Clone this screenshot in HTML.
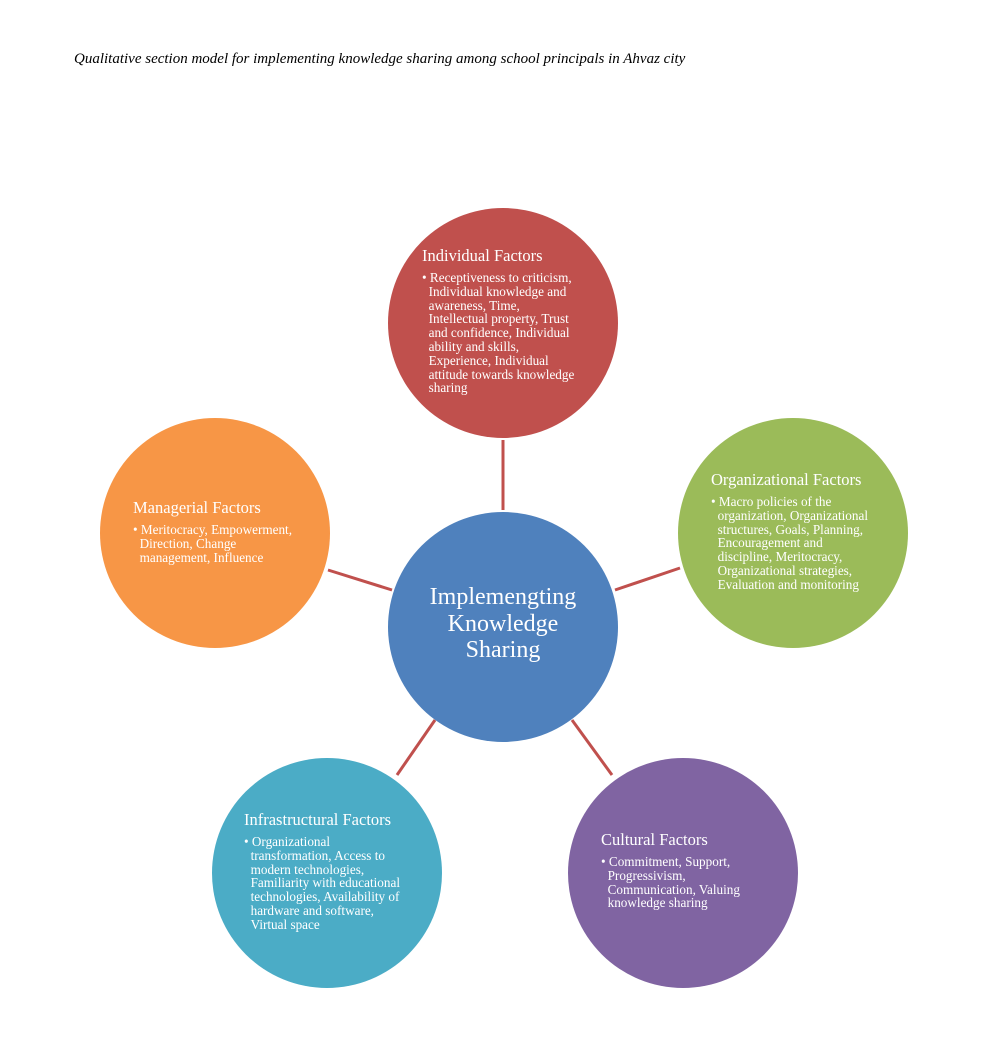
<!DOCTYPE html>
<html><head><meta charset="utf-8"><style>
body{margin:0;width:987px;height:1053px;background:#fff;position:relative;overflow:hidden;font-family:"Liberation Serif",serif;}
.t{position:absolute;color:#fff;white-space:nowrap;}
.h{font-size:16.5px;}
.b{font-size:13.2px;line-height:13.8px;}
</style></head><body>
<div style="position:absolute;left:74px;top:51px;font-size:15px;font-style:italic;color:#000;">Qualitative section model for implementing knowledge sharing among school principals in Ahvaz city</div>
<svg width="987" height="1053" style="position:absolute;left:0;top:0">
<g stroke="#c0504d" stroke-width="3">
<line x1="503" y1="440" x2="503" y2="510"/>
<line x1="615" y1="590" x2="680" y2="568"/>
<line x1="328" y1="570" x2="392" y2="590"/>
<line x1="397" y1="775" x2="435" y2="720"/>
<line x1="572" y1="720" x2="612" y2="775"/>
</g>
<circle cx="503" cy="323" r="115" fill="#c0504d"/>
<circle cx="793" cy="533" r="115" fill="#9bbb59"/>
<circle cx="215" cy="533" r="115" fill="#f79646"/>
<circle cx="327" cy="873" r="115" fill="#4bacc6"/>
<circle cx="683" cy="873" r="115" fill="#8064a2"/>
<circle cx="503" cy="627" r="115" fill="#4f81bd"/>
</svg>
<div class="t" style="left:390px;top:584px;width:226px;text-align:center;font-size:24px;line-height:26.5px;">Implemengting<br>Knowledge<br>Sharing</div>

<div class="t h" style="left:422px;top:246px;">Individual Factors</div>
<div class="t b" style="left:422px;top:271px;">• Receptiveness to criticism,<br>&nbsp;&nbsp;Individual knowledge and<br>&nbsp;&nbsp;awareness, Time,<br>&nbsp;&nbsp;Intellectual property, Trust<br>&nbsp;&nbsp;and confidence, Individual<br>&nbsp;&nbsp;ability and skills,<br>&nbsp;&nbsp;Experience, Individual<br>&nbsp;&nbsp;attitude towards knowledge<br>&nbsp;&nbsp;sharing</div>

<div class="t h" style="left:711px;top:470px;">Organizational Factors</div>
<div class="t b" style="left:711px;top:495px;">• Macro policies of the<br>&nbsp;&nbsp;organization, Organizational<br>&nbsp;&nbsp;structures, Goals, Planning,<br>&nbsp;&nbsp;Encouragement and<br>&nbsp;&nbsp;discipline, Meritocracy,<br>&nbsp;&nbsp;Organizational strategies,<br>&nbsp;&nbsp;Evaluation and monitoring</div>

<div class="t h" style="left:133px;top:498px;">Managerial Factors</div>
<div class="t b" style="left:133px;top:523px;">• Meritocracy, Empowerment,<br>&nbsp;&nbsp;Direction, Change<br>&nbsp;&nbsp;management, Influence</div>

<div class="t h" style="left:244px;top:810px;">Infrastructural Factors</div>
<div class="t b" style="left:244px;top:835px;">• Organizational<br>&nbsp;&nbsp;transformation, Access to<br>&nbsp;&nbsp;modern technologies,<br>&nbsp;&nbsp;Familiarity with educational<br>&nbsp;&nbsp;technologies, Availability of<br>&nbsp;&nbsp;hardware and software,<br>&nbsp;&nbsp;Virtual space</div>

<div class="t h" style="left:601px;top:830px;">Cultural Factors</div>
<div class="t b" style="left:601px;top:855px;">• Commitment, Support,<br>&nbsp;&nbsp;Progressivism,<br>&nbsp;&nbsp;Communication, Valuing<br>&nbsp;&nbsp;knowledge sharing</div>
</body></html>
